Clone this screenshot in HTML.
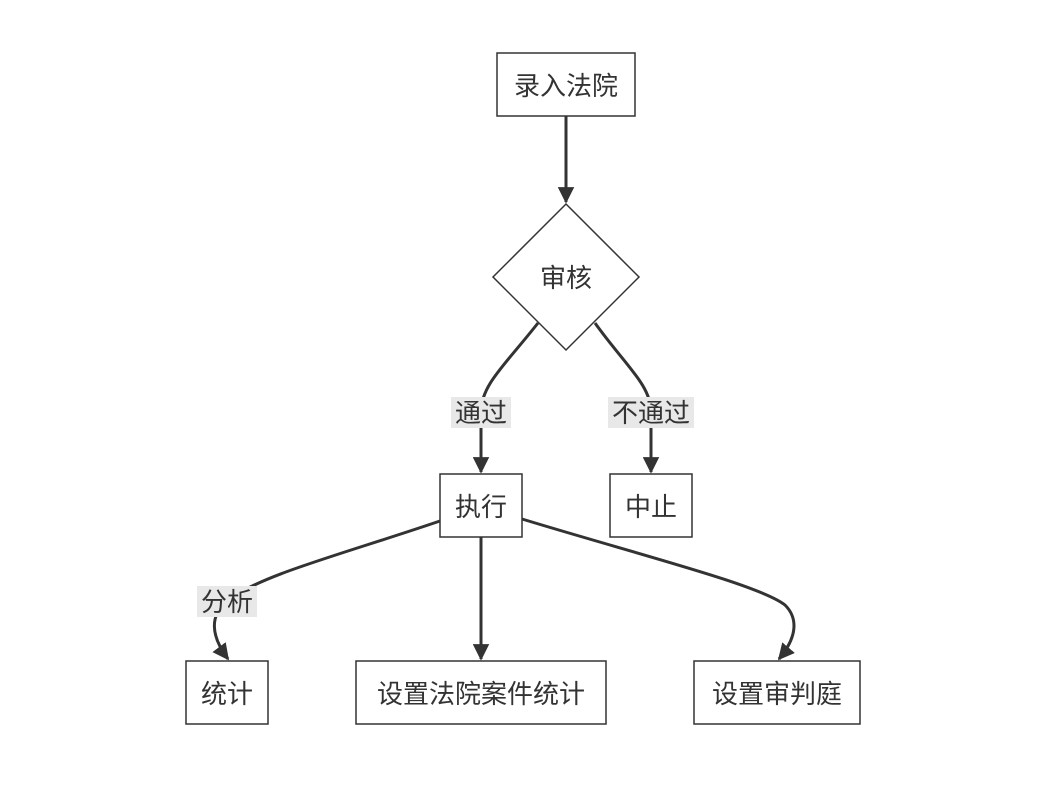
<!DOCTYPE html>
<html><head><meta charset="utf-8"><style>
html,body{margin:0;padding:0;background:#fff;}
svg text{font-family:"Liberation Sans","Noto Sans CJK SC",sans-serif;font-size:26px;fill:#333;}
</style></head><body>
<svg width="1046" height="781" viewBox="0 0 1046 781" xmlns="http://www.w3.org/2000/svg">
<defs>
<marker id="a" viewBox="0 0 10 10" refX="9" refY="5" markerWidth="5.5" markerHeight="5.5" orient="auto" markerUnits="strokeWidth">
<path d="M0,0 L10,5 L0,10 z" fill="#333"/></marker>
</defs>
<g fill="none" stroke="#333" stroke-width="3">
<path d="M566,116 L566,202" marker-end="url(#a)"/>
<path d="M538,323 C505,365 481,385 481,412 L481,472" marker-end="url(#a)"/>
<path d="M595,323 C625,365 651,385 651,412 L651,472" marker-end="url(#a)"/>
<path d="M440,521 C340,555 260,575 227,601 C210,615 210,635 228,659" marker-end="url(#a)"/>
<path d="M481,537 L481,659" marker-end="url(#a)"/>
<path d="M522,519 C640,555 760,585 785,605 C800,620 795,640 779,659" marker-end="url(#a)"/>
</g>
<g fill="#fff" stroke="#333" stroke-width="1.5">
<rect x="497" y="53" width="138" height="63"/>
<polygon points="566,204 639,277 566,350 493,277"/>
<rect x="440" y="474" width="82" height="63"/>
<rect x="610" y="474" width="82" height="63"/>
<rect x="186" y="661" width="82" height="63"/>
<rect x="356" y="661" width="250" height="63"/>
<rect x="694" y="661" width="166" height="63"/>
</g>
<g fill="#e8e8e8">
<rect x="451" y="397" width="60" height="31"/>
<rect x="608" y="397" width="86" height="31"/>
<rect x="197" y="586" width="60" height="31"/>
</g>
<g text-anchor="middle" dominant-baseline="central">
<text x="566" y="86">录入法院</text>
<text x="566" y="278">审核</text>
<text x="481" y="413">通过</text>
<text x="651" y="413">不通过</text>
<text x="481" y="507">执行</text>
<text x="651" y="507">中止</text>
<text x="227" y="602">分析</text>
<text x="227" y="694">统计</text>
<text x="481" y="694">设置法院案件统计</text>
<text x="777" y="694">设置审判庭</text>
</g>
</svg>
</body></html>
